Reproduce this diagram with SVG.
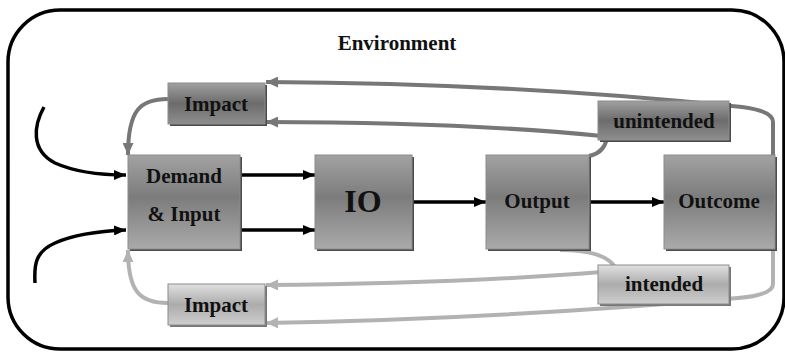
<svg xmlns="http://www.w3.org/2000/svg" width="785" height="352" viewBox="0 0 785 352">
<defs>
<linearGradient id="gMain" x1="0" y1="0" x2="0" y2="1">
<stop offset="0" stop-color="#a2a2a2"/>
<stop offset="0.45" stop-color="#7c7c7c"/>
<stop offset="1" stop-color="#aaaaaa"/>
</linearGradient>
<linearGradient id="gDark" x1="0" y1="0" x2="0" y2="1">
<stop offset="0" stop-color="#a0a0a0"/>
<stop offset="0.5" stop-color="#6c6c6c"/>
<stop offset="1" stop-color="#8e8e8e"/>
</linearGradient>
<linearGradient id="gLight" x1="0" y1="0" x2="0" y2="1">
<stop offset="0" stop-color="#e0e0e0"/>
<stop offset="0.5" stop-color="#acacac"/>
<stop offset="1" stop-color="#cecece"/>
</linearGradient>
<marker id="aBlack" viewBox="0 0 12 10" refX="12" refY="5" markerWidth="12" markerHeight="10" markerUnits="userSpaceOnUse" orient="auto">
<path d="M0,0 L12,5 L0,10 Z" fill="#000"/>
</marker>
<marker id="aDark" viewBox="0 0 12 11" refX="12" refY="5.5" markerWidth="12" markerHeight="11" markerUnits="userSpaceOnUse" orient="auto">
<path d="M0,0 L12,5.5 L0,11 Z" fill="#777"/>
</marker>
<marker id="aLight" viewBox="0 0 12 11" refX="12" refY="5.5" markerWidth="12" markerHeight="11" markerUnits="userSpaceOnUse" orient="auto">
<path d="M0,0 L12,5.5 L0,11 Z" fill="#b2b2b2"/>
</marker>
</defs>
<style>
.lbl{font-family:"Liberation Serif","Times New Roman",serif;font-weight:bold;font-size:21px;fill:#111;text-anchor:middle}
.shadow{fill:#4a4a4a}
.box{stroke:#8c8c8c;stroke-width:1}
.blk{fill:none;stroke:#000;stroke-width:3.5}
.dk{fill:none;stroke:#777;stroke-width:4}
.lt{fill:none;stroke:#b2b2b2;stroke-width:4}
</style>
<rect x="0" y="0" width="785" height="352" fill="#fff"/>
<rect id="environment-frame" x="8" y="10" width="776" height="339" rx="52" ry="52" fill="none" stroke="#000" stroke-width="3.5"/>
<text class="lbl" x="397" y="50">Environment</text>
<g id="connectors">
<path class="blk" d="M44,107 C 34,125 30,150 55,163 C 75,172 100,175 126,175" marker-end="url(#aBlack)"/>
<path class="blk" d="M35,283 C 34,265 35,252 55,243 C 75,234 100,231 126,230" marker-end="url(#aBlack)"/>
<path class="blk" d="M240,175 L315,175" marker-end="url(#aBlack)"/>
<path class="blk" d="M240,230 L315,230" marker-end="url(#aBlack)"/>
<path class="blk" d="M412,202 L486,202" marker-end="url(#aBlack)"/>
<path class="blk" d="M589,202 L664,202" marker-end="url(#aBlack)"/>
<path class="dk" d="M773,155 V122 Q773,111 742,107 C 600,92 450,83 266,82" marker-end="url(#aDark)"/>
<path class="dk" d="M589,156 Q604,153 607,138"/>
<path class="dk" d="M602,136 C 500,126 400,122 266,122" marker-end="url(#aDark)"/>
<path class="dk" d="M168,99 C 140,99 128,110 128,155" marker-end="url(#aDark)"/>
<path class="lt" d="M773,249 V284 Q773,295 738,298 C 600,310 450,320 266,323" marker-end="url(#aLight)"/>
<path class="lt" d="M560,250 Q604,250 615,267"/>
<path class="lt" d="M602,272 C 500,280 400,284 266,285" marker-end="url(#aLight)"/>
<path class="lt" d="M168,303 C 140,303 128,292 128,250" marker-end="url(#aLight)"/>
</g>
<g id="node-demand-input">
<rect class="shadow" x="130" y="157" width="112" height="94"/>
<rect class="box" x="128" y="155" width="112" height="94" fill="url(#gMain)"/>
<text class="lbl" x="184" y="183">Demand</text>
<text class="lbl" x="184" y="221">&amp; Input</text>
</g>
<g id="node-io">
<rect class="shadow" x="317" y="157" width="97" height="94"/>
<rect class="box" x="315" y="155" width="97" height="94" fill="url(#gMain)"/>
<text class="lbl" x="363" y="212" style="font-size:32px">IO</text>
</g>
<g id="node-output">
<rect class="shadow" x="488" y="157" width="103" height="94"/>
<rect class="box" x="486" y="155" width="103" height="94" fill="url(#gMain)"/>
<text class="lbl" x="537" y="208">Output</text>
</g>
<g id="node-outcome">
<rect class="shadow" x="666" y="157" width="111" height="94"/>
<rect class="box" x="664" y="155" width="111" height="94" fill="url(#gMain)"/>
<text class="lbl" x="719" y="208">Outcome</text>
</g>
<g id="node-impact-top">
<rect class="shadow" x="170" y="85" width="97" height="41"/>
<rect class="box" x="168" y="83" width="97" height="41" fill="url(#gDark)"/>
<text class="lbl" x="216" y="111">Impact</text>
</g>
<g id="node-unintended">
<rect class="shadow" x="600" y="103" width="131" height="39"/>
<rect class="box" x="598" y="101" width="131" height="39" fill="url(#gDark)"/>
<text class="lbl" x="664" y="128">unintended</text>
</g>
<g id="node-intended">
<rect class="shadow" x="600" y="267" width="131" height="39" style="fill:#777"/>
<rect class="box" x="598" y="265" width="131" height="39" fill="url(#gLight)"/>
<text class="lbl" x="664" y="291">intended</text>
</g>
<g id="node-impact-bottom">
<rect class="shadow" x="170" y="286" width="97" height="41" style="fill:#777"/>
<rect class="box" x="168" y="284" width="97" height="41" fill="url(#gLight)"/>
<text class="lbl" x="216" y="312">Impact</text>
</g>
</svg>
